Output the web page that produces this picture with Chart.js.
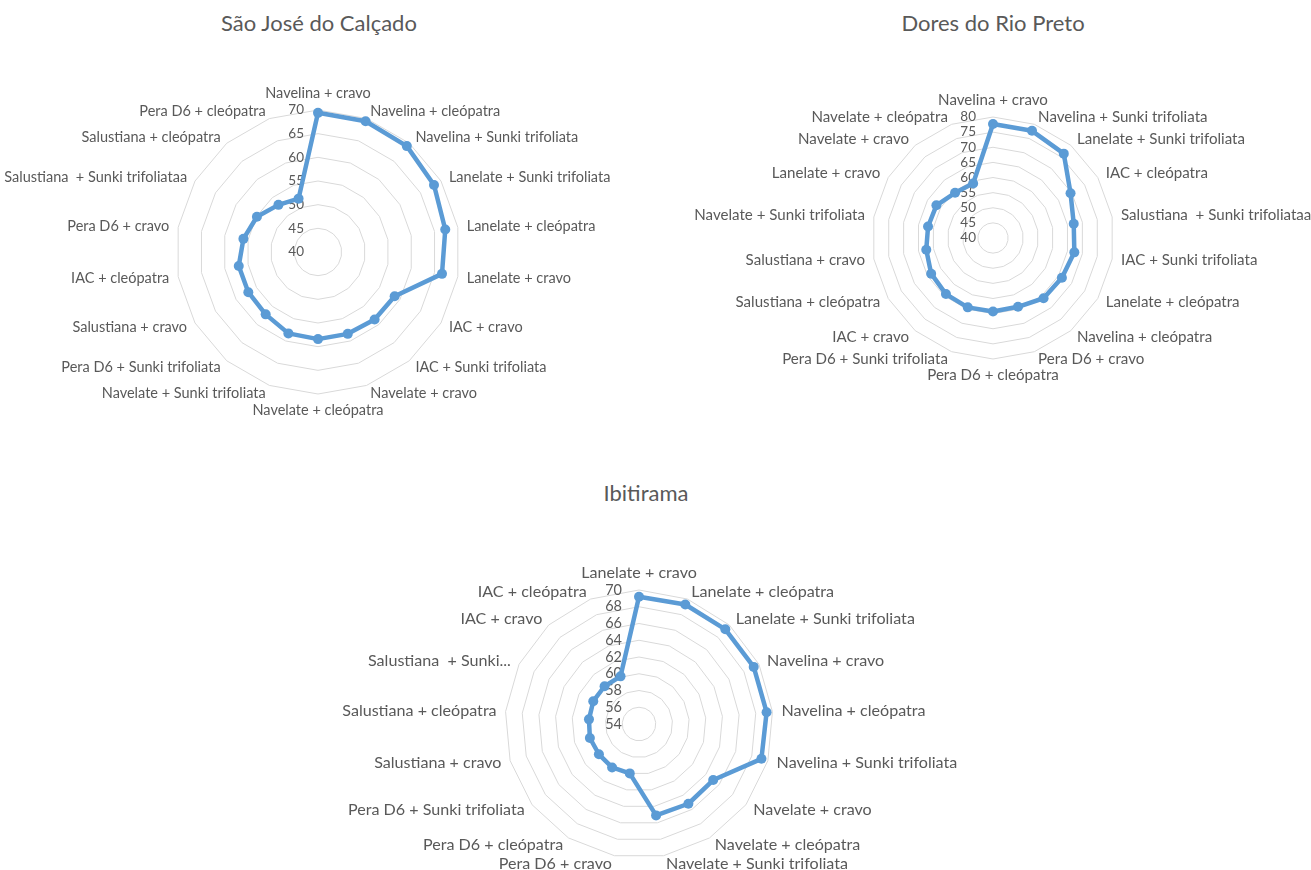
<!DOCTYPE html>
<html>
<head>
<meta charset="utf-8">
<script src="https://cdn.jsdelivr.net/npm/chart.js@4.4.1/dist/chart.umd.min.js"></script>
<style>
html,body{margin:0;padding:0;background:#fff;width:1311px;height:870px;overflow:hidden;}
canvas{position:absolute;left:0;top:0;}
.title{position:absolute;font-family:Lato,"Open Sans",sans-serif;color:#595959;font-size:22px;transform:translate(-50%,-50%);white-space:nowrap;}
</style>
</head>
<body>
<div class="title" style="left:319px;top:22px">São José do Calçado</div>
<div class="title" style="left:993px;top:22px">Dores do Rio Preto</div>
<div class="title" style="left:646px;top:492px">Ibitirama</div>
<canvas id="c1" width="1311" height="870"></canvas>
<canvas id="c2" width="1311" height="870"></canvas>
<canvas id="c3" width="1311" height="870"></canvas>
<script>
// ---------- São José do Calçado ----------
const categoriesSaoJose = [
  "Navelina + cravo", "Navelina + cleópatra", "Navelina + Sunki trifoliata",
  "Lanelate + Sunki trifoliata", "Lanelate + cleópatra", "Lanelate + cravo",
  "IAC + cravo", "IAC + Sunki trifoliata", "Navelate + cravo",
  "Navelate + cleópatra", "Navelate + Sunki trifoliata", "Pera D6 + Sunki trifoliata",
  "Salustiana + cravo", "IAC + cleópatra", "Pera D6 + cravo",
  "Salustiana  + Sunki trifoliataa", "Salustiana + cleópatra", "Pera D6 + cleópatra"
];
const valuesSaoJose = [69.4, 69.4, 69.2, 68.3, 67.3, 66.6, 58.7, 58.6, 58.4, 58.4, 58.3, 57.2, 57.0, 57.0, 56.0, 54.9, 53.0, 52.0];
const ticksSaoJose = [40, 45, 50, 55, 60, 65, 70];

// ---------- Dores do Rio Preto ----------
const categoriesDores = [
  "Navelina + cravo", "Navelina + Sunki trifoliata", "Lanelate + Sunki trifoliata",
  "IAC + cleópatra", "Salustiana  + Sunki trifoliataa", "IAC + Sunki trifoliata",
  "Lanelate + cleópatra", "Navelina + cleópatra", "Pera D6 + cravo",
  "Pera D6 + cleópatra", "Pera D6 + Sunki trifoliata", "IAC + cravo",
  "Salustiana + cleópatra", "Salustiana + cravo", "Navelate + Sunki trifoliata",
  "Lanelate + cravo", "Navelate + cravo", "Navelate + cleópatra"
];
const valuesDores = [77.7, 77.7, 76.4, 69.6, 67.1, 67.3, 66.3, 66.0, 64.2, 64.3, 64.4, 64.2, 63.6, 62.4, 61.8, 61.6, 59.5, 59.2];
const ticksDores = [40, 45, 50, 55, 60, 65, 70, 75, 80];

// ---------- Ibitirama ----------
const categoriesIbitirama = [
  "Lanelate + cravo", "Lanelate + cleópatra", "Lanelate + Sunki trifoliata",
  "Navelina + cravo", "Navelina + cleópatra", "Navelina + Sunki trifoliata",
  "Navelate + cravo", "Navelate + cleópatra", "Navelate + Sunki trifoliata",
  "Pera D6 + cravo", "Pera D6 + cleópatra", "Pera D6 + Sunki trifoliata",
  "Salustiana + cravo", "Salustiana + cleópatra", "Salustiana  + Sunki...",
  "IAC + cravo", "IAC + cleópatra"
];
const valuesIbitirama = [69.2, 69.3, 69.3, 69.3, 69.3, 69.2, 65.1, 65.2, 65.1, 60.0, 60.1, 60.0, 60.1, 60.0, 60.1, 60.1, 60.1];
const ticksIbitirama = [54, 56, 58, 60, 62, 64, 66, 68, 70];

const FONT = 'Lato, "Open Sans", sans-serif';
const TEXT = '#595959';
const LINE = '#5B9BD5';
const GRID = '#D9D9D9';

const excelRadarPlugin = {
  id: 'excelRadar',
  beforeDatasetsDraw(chart, args, opts) {
    const scale = chart.scales.r;
    const ctx = chart.ctx;
    ctx.save();
    ctx.font = opts.tickSize + 'px ' + FONT;
    ctx.fillStyle = TEXT;
    ctx.textAlign = 'right';
    ctx.textBaseline = 'middle';
    scale.ticks.forEach(t => {
      const d = scale.getDistanceFromCenterForValue(t.value);
      ctx.fillText(String(t.value), scale.xCenter - opts.tickGap, scale.yCenter - d);
    });
    ctx.restore();
  },
  afterDraw(chart, args, opts) {
    const scale = chart.scales.r;
    const ctx = chart.ctx;
    const labels = chart.data.labels;
    ctx.save();
    ctx.font = opts.labelSize + 'px ' + FONT;
    ctx.fillStyle = TEXT;
    ctx.textBaseline = 'middle';
    const h = opts.labelSize;
    labels.forEach((lab, i) => {
      const p = scale.getPointPosition(i, scale.drawingArea + opts.labelGap);
      const a = scale.getIndexAngle(i);
      const s = Math.sin(a), c = Math.cos(a);
      let x = p.x, y = p.y;
      if (Math.abs(s) < 0.02) {
        ctx.textAlign = 'center';
        y = p.y - c * (h / 2 + 1);
      } else if (s > 0) {
        ctx.textAlign = 'left';
        x = p.x + 1;
      } else {
        ctx.textAlign = 'right';
        x = p.x - 1;
      }
      ctx.fillText(lab, x, y);
    });
    ctx.restore();
  }
};

function makeRadar(id, labels, values, ticks, cx, cy, R, labelSize, tickSize, tickGap) {
  return new Chart(document.getElementById(id), {
    type: 'radar',
    data: {
      labels: labels,
      datasets: [{
        data: values,
        borderColor: LINE,
        backgroundColor: LINE,
        borderWidth: 4.5,
        borderJoinStyle: 'round',
        pointRadius: 5,
        pointBackgroundColor: LINE,
        pointBorderColor: LINE,
        pointBorderWidth: 0,
        fill: false,
        tension: 0
      }]
    },
    options: {
      responsive: false,
      animation: false,
      layout: { padding: { left: cx - R, right: 1311 - (cx + R), top: cy - R, bottom: 870 - (cy + R) } },
      plugins: {
        legend: { display: false },
        tooltip: { enabled: false },
        title: { display: false },
        excelRadar: { labelSize: labelSize, tickSize: tickSize, tickGap: tickGap, labelGap: 8 }
      },
      scales: {
        r: {
          min: ticks[0],
          max: ticks[ticks.length - 1],
          ticks: { display: false, stepSize: ticks[1] - ticks[0] },
          pointLabels: { display: false },
          angleLines: { display: false },
          grid: { color: GRID, lineWidth: 1 }
        }
      }
    },
    plugins: [excelRadarPlugin]
  });
}

makeRadar('c1', categoriesSaoJose, valuesSaoJose, ticksSaoJose, 318, 252, 142, 14.5, 13.5, 14);
makeRadar('c2', categoriesDores, valuesDores, ticksDores, 993, 238, 121, 15.1, 13.5, 17);
makeRadar('c3', categoriesIbitirama, valuesIbitirama, ticksIbitirama, 639, 724, 134, 16.1, 14.5, 17);
</script>
</body>
</html>
